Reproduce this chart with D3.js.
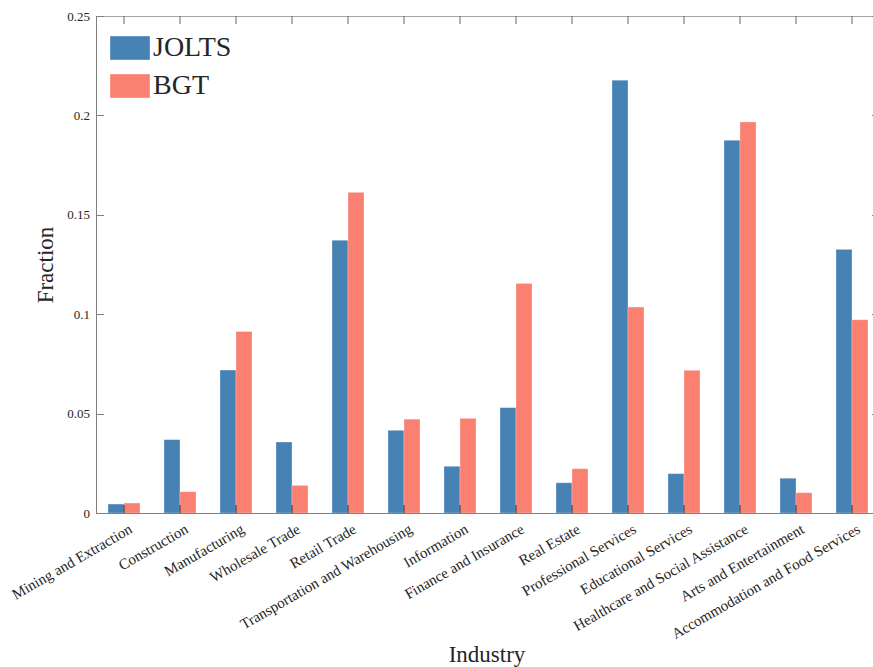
<!DOCTYPE html>
<html>
<head>
<meta charset="utf-8">
<script src="https://cdn.jsdelivr.net/npm/d3@7"></script>
<style>
  html, body { margin: 0; padding: 0; background: #fff; }
  svg { display: block; }
  text { font-family: "Liberation Serif", "DejaVu Serif", serif; fill: #262626; }
</style>
</head>
<body>
<script>
const categories = [
  "Mining and Extraction", "Construction", "Manufacturing", "Wholesale Trade",
  "Retail Trade", "Transportation and Warehousing", "Information",
  "Finance and Insurance", "Real Estate", "Professional Services",
  "Educational Services", "Healthcare and Social Assistance",
  "Arts and Entertainment", "Accommodation and Food Services"
];
const joltsValues = [0.0045, 0.0369, 0.0719, 0.0357, 0.1372, 0.0416, 0.0235, 0.0530, 0.0152, 0.2177, 0.0198, 0.1875, 0.0175, 0.1326];
const bgtValues   = [0.0050, 0.0107, 0.0913, 0.0139, 0.1613, 0.0472, 0.0476, 0.1155, 0.0223, 0.1036, 0.0718, 0.1967, 0.0102, 0.0972];
const seriesNames = ["JOLTS", "BGT"];
const seriesColors = ["#4682B4", "#FA8072"];
const yTicks = [0, 0.05, 0.1, 0.15, 0.2, 0.25];
const yTickLabels = ["0", "0.05", "0.1", "0.15", "0.2", "0.25"];

(function () {
const W = 873, H = 667;
const mLeft = 96, mRight = 880, mTop = 16, mBottom = 513;
const axisColor = "#7f7f7f";

const svg = d3.select("body").append("svg").attr("width", W).attr("height", H);

const x = d3.scaleBand().domain(categories).range([mLeft, mRight])
  .paddingInner(0.4286).paddingOuter(0.2143);
const xs = d3.scaleBand().domain(seriesNames).range([0, x.bandwidth()]);
const y = d3.scaleLinear().domain([0, 0.25]).range([mBottom, mTop]);

const data = categories.map((c, i) => ({ cat: c, vals: [joltsValues[i], bgtValues[i]] }));

// bars
const g = svg.append("g");
data.forEach(d => {
  d.vals.forEach((v, j) => {
    g.append("rect")
      .attr("x", x(d.cat) + xs(seriesNames[j]))
      .attr("y", y(v))
      .attr("width", xs.bandwidth())
      .attr("height", y(0) - y(v))
      .attr("fill", seriesColors[j])
      .attr("stroke", "#ffffff")
      .attr("stroke-opacity", 0.35)
      .attr("stroke-width", 0.8);
  });
});

// axes box lines
const centers = categories.map(c => x(c) + x.bandwidth() / 2);
const ax = svg.append("g").attr("stroke", axisColor).attr("fill", "none");
ax.append("line").attr("x1", mLeft).attr("x2", mRight).attr("y1", mTop + 0.5).attr("y2", mTop + 0.5).attr("stroke", "#a6a6a6");
ax.append("line").attr("x1", mLeft).attr("x2", mRight).attr("y1", mBottom + 0.5).attr("y2", mBottom + 0.5);
ax.append("line").attr("x1", mLeft + 0.5).attr("x2", mLeft + 0.5).attr("y1", mTop).attr("y2", mBottom);
ax.append("line").attr("x1", mRight - 0.5).attr("x2", mRight - 0.5).attr("y1", mTop).attr("y2", mBottom);

// x ticks (inward, top and bottom)
centers.forEach(cx => {
  ax.append("line").attr("x1", cx).attr("x2", cx).attr("y1", mTop).attr("y2", mTop + 8).attr("stroke", "#666");
  ax.append("line").attr("x1", cx).attr("x2", cx).attr("y1", mBottom).attr("y2", mBottom - 8).attr("stroke", "#333");
});
// y ticks (inward, left and right)
yTicks.forEach(t => {
  const yy = Math.round(y(t)) + 0.5;
  ax.append("line").attr("x1", mLeft).attr("x2", mLeft + 8).attr("y1", yy).attr("y2", yy);
  ax.append("line").attr("x1", mRight).attr("x2", mRight - 8).attr("y1", yy).attr("y2", yy);
});

// y tick labels
svg.append("g").selectAll("text").data(yTicks).join("text")
  .attr("x", mLeft - 6)
  .attr("y", d => y(d))
  .attr("dy", "0.35em")
  .attr("text-anchor", "end")
  .attr("font-size", 13)
  .text((d, i) => yTickLabels[i]);

// x tick labels rotated
svg.append("g").selectAll("text").data(categories).join("text")
  .attr("transform", (d, i) => `translate(${centers[i] + 4},${mBottom + 10}) rotate(-30)`)
  .attr("text-anchor", "end")
  .attr("dy", "0.7em")
  .attr("font-size", 15)
  .text(d => d);

// axis titles
svg.append("text")
  .attr("x", 487).attr("y", 662)
  .attr("text-anchor", "middle")
  .attr("font-size", 23)
  .text("Industry");
svg.append("text")
  .attr("transform", `translate(53,265) rotate(-90)`)
  .attr("text-anchor", "middle")
  .attr("font-size", 23)
  .text("Fraction");

// legend
const leg = svg.append("g");
seriesNames.forEach((s, i) => {
  const ly = 36 + i * 38;
  leg.append("rect").attr("x", 110).attr("y", ly).attr("width", 40).attr("height", 24)
    .attr("fill", seriesColors[i]).attr("stroke", "#ffffff").attr("stroke-opacity", 0.35);
  leg.append("text").attr("x", 153).attr("y", ly + 20).attr("font-size", 28).text(s);
});
})();
</script>
</body>
</html>
